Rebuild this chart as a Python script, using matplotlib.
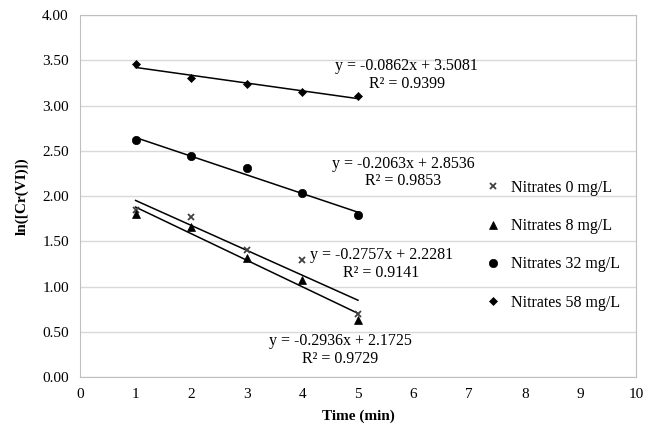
import numpy as np
import matplotlib
matplotlib.use('Agg')
import matplotlib.pyplot as plt

plt.rcParams['font.family'] = ['Liberation Serif', 'DejaVu Serif']

time_min = [1, 2, 3, 4, 5]
labels = ['Nitrates 0 mg/L', 'Nitrates 8 mg/L', 'Nitrates 32 mg/L', 'Nitrates 58 mg/L']
ln_cr = [
    [1.85, 1.77, 1.40, 1.29, 0.70],
    [1.80, 1.66, 1.32, 1.07, 0.63],
    [2.62, 2.44, 2.31, 2.04, 1.79],
    [3.46, 3.30, 3.24, 3.15, 3.11],
]
slopes = [-0.2757, -0.2936, -0.2063, -0.0862]
intercepts = [2.2281, 2.1725, 2.8536, 3.5081]
r2 = [0.9141, 0.9729, 0.9853, 0.9399]
# where each equation label sits (data coords)
eq_pos = [(5.42, 1.25), (4.68, 0.30), (5.81, 2.26), (5.88, 3.34)]

markers = ['x', '^', 'o', 'D']
msizes = [4.5, 5.5, 6, 4.5]
mcolors = ['#404040', 'black', 'black', 'black']

fig = plt.figure(figsize=(6.54, 4.32), dpi=100)
ax = fig.add_axes([0.1223, 0.127, 0.8502, 0.8380])

for i in range(4):
    ax.plot(time_min, ln_cr[i], linestyle='none', marker=markers[i],
            markersize=msizes[i], color=mcolors[i], markeredgewidth=1.3 if markers[i] == 'x' else 0.5,
            label=labels[i], zorder=3)
    xs = np.array([time_min[0], time_min[-1]])
    ax.plot(xs, slopes[i] * xs + intercepts[i], color='black', lw=1.1, zorder=2)
    ax.text(eq_pos[i][0], eq_pos[i][1],
            f'y = {slopes[i]:.4f}x + {intercepts[i]:.4f}\nR² = {r2[i]:.4f}',
            ha='center', va='center', fontsize=11.5, linespacing=1.15, zorder=4)

ax.set_xlim(0, 10)
ax.set_ylim(0, 4)
ax.set_xticks(range(0, 11))
ax.set_yticks(np.arange(0, 4.01, 0.5))
ax.yaxis.set_major_formatter(matplotlib.ticker.FormatStrFormatter('%.2f'))
ax.tick_params(length=0, labelsize=11, pad=8)
ax.grid(axis='y', color='#d9d9d9', lw=1)
ax.set_axisbelow(True)
for s in ax.spines.values():
    s.set_color('#bfbfbf')

ax.set_xlabel('Time (min)', fontsize=11, fontweight='bold', labelpad=6)
ax.set_ylabel('ln([Cr(VI)])', fontsize=11, fontweight='bold', labelpad=10)

ax.legend(loc='upper left', bbox_to_anchor=(0.70, 0.585), frameon=False,
          fontsize=11.5, labelspacing=1.4, handletextpad=0.5, handlelength=1.2)

fig.savefig('out.png', dpi=100)
